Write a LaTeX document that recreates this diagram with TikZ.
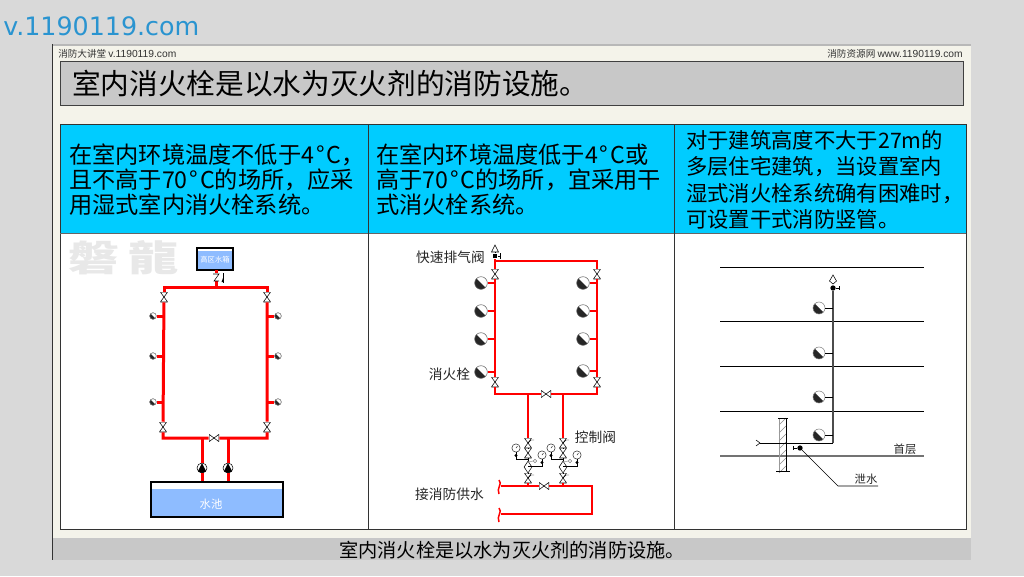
\documentclass[tikz,border=0pt]{standalone}
\usepackage{fontspec}
\setmainfont{Noto Sans CJK SC}
\newfontfamily\latinfont{Liberation Sans}
\newfontfamily\urlfont{DejaVu Sans}
\usepackage{xcolor}
\usetikzlibrary{shapes.geometric}
\definecolor{pagegray}{HTML}{D9D9D9}
\definecolor{panelcream}{HTML}{F4F3EA}
\definecolor{titlegray}{HTML}{C8C8C8}
\definecolor{headcyan}{HTML}{00CCFF}
\definecolor{waterblue}{HTML}{8EBCFF}
\definecolor{urlblue}{HTML}{2A94D0}
\newcommand{\degc}{\hspace{.08em}°\hspace{.08em}C}
\tikzset{
  pipe/.style={draw=red,line width=3pt*0.75},
  thinpipe/.style={draw=red,line width=2.6pt*0.75},
  hydrant/.style={circle,draw=black!60,fill=white,inner sep=0pt,minimum size=#1,
    path picture={\fill[black!85] (path picture bounding box.north west) -- (path picture bounding box.south east) -- (path picture bounding box.south west) -- cycle;}},
  hydrant/.default=9.5pt,
  vvalve/.style={inner sep=0pt,minimum width=5.5pt,minimum height=7.5pt,fill=white,
    path picture={\draw[line width=.4pt] (path picture bounding box.north west) -- (path picture bounding box.south east) -- (path picture bounding box.south west) -- (path picture bounding box.north east) -- cycle;}},
  hvalve/.style={inner sep=0pt,minimum width=7.5pt,minimum height=5.5pt,fill=white,
    path picture={\draw[line width=.4pt] (path picture bounding box.north west) -- (path picture bounding box.south east) -- (path picture bounding box.north east) -- (path picture bounding box.south west) -- cycle;}},
  pump/.style={circle,draw=black,line width=.4pt,fill=white,inner sep=0pt,minimum size=7.5pt,
    path picture={\fill[black] (path picture bounding box.south west) -- (path picture bounding box.south east) -- (path picture bounding box.north) -- cycle;}},
  gauge/.style={circle,draw=black!80,fill=white,line width=.4pt,inner sep=0pt,minimum size=6.2pt},
  blackdot/.style={circle,fill=black,inner sep=0pt,minimum size=4pt},
  headtext/.style={anchor=north west,align=left,inner sep=0pt,font=\fontsize{17.4pt}{18.6pt}\selectfont},
  labeltext/.style={inner sep=0pt,text=black!85,font=\fontsize{10.3pt}{12pt}\selectfont},
  smalltext/.style={inner sep=0pt,text=black!85,font=\fontsize{8.5pt}{10pt}\selectfont},
  toptext/.style={inner sep=0pt,text=black!80,font=\fontsize{7.2pt}{9pt}\selectfont},
}
\begin{document}
\begin{tikzpicture}[x=0.75pt,y=-0.75pt]
  \useasboundingbox (0,0) rectangle (1024,576);
  \fill[pagegray] (0,0) rectangle (1024,576);

  % Slide panel
  \fill[panelcream] (52,44) rectangle (971,538);
  \fill[pagegray!85!black] (52,44) rectangle (971,46);
  \fill[titlegray] (52,538) rectangle (971,560);
  \draw[black!80] (52,44) -- (52,560);
  \node[anchor=west,inner sep=0pt,text=urlblue,font=\urlfont\fontsize{19pt}{22pt}\selectfont] (siteurl) at (3,26.5) {v.1190119.com};
  \node[toptext,anchor=west] (topleft) at (58,54) {消防大讲堂 {\latinfont\fontsize{7.7pt}{9pt}\selectfont v.1190119.com}};
  \node[toptext,anchor=east] (topright) at (963,54) {消防资源网 {\latinfont\fontsize{7.7pt}{9pt}\selectfont www.1190119.com}};

  % Title bar
  \draw[black!75,fill=titlegray] (60,61) rectangle (963,105);
  \node[anchor=west,inner sep=0pt,font=\fontsize{21.5pt}{24pt}\selectfont] (title) at (72,84) {室内消火栓是以水为灭火剂的消防设施。};

  % Table
  \fill[headcyan] (60,124) rectangle (966,233);
  \fill[white] (60,233) rectangle (966,529);
  \draw[black!80] (60,124) rectangle (966,529);
  \draw[black!60] (60,233) -- (966,233);
  \draw[black!80] (368,124) -- (368,529);
  \draw[black!80] (674,124) -- (674,529);
  \node[headtext] (headone) at (69,144) {在室内环境温度不低于4\degc，\\且不高于70\degc 的场所，应采\\用湿式室内消火栓系统。};
  \node[headtext] (headtwo) at (376,144) {在室内环境温度低于4\degc 或\\高于70\degc 的场所，宜采用干\\式消火栓系统。};
  \node[headtext,font=\fontsize{16pt}{19.9pt}\selectfont] (headthree) at (686,130) {对于建筑高度不大于27m的\\多层住宅建筑，当设置室内\\湿式消火栓系统确有困难时，\\可设置干式消防竖管。};

  % Caption
  \node[inner sep=0pt,font=\fontsize{14.4pt}{16pt}\selectfont] (caption) at (512,550) {室内消火栓是以水为灭火剂的消防设施。};

  % Wet system
  \node[inner sep=0pt,xscale=1.4,text=black!9,font=\bfseries\fontsize{27pt}{30pt}\selectfont] (mark) at (124,258) {磐\hspace{5pt}龍};
  \fill[waterblue] (197,251) rectangle (233,270);
  \node[draw=black,line width=.9pt,minimum width=27pt,minimum height=16.5pt,inner sep=0pt] (roof) at (215,259) {};
  \node[inner sep=0pt,text=white,font=\fontsize{5.5pt}{6pt}\selectfont] (rooflabel) at (215,260) {高区水箱};
  \fill[waterblue] (151,489) rectangle (283,517);
  \node[draw=black,line width=.9pt,minimum width=99pt,minimum height=26.25pt,inner sep=0pt] (pool) at (217,499.5) {};
  \node[inner sep=0pt,text=white,font=\fontsize{8.5pt}{10pt}\selectfont] (poollabel) at (211,504) {水池};

  \coordinate (wtop) at (216,287);
  \coordinate (wtl) at (164,287);
  \coordinate (wtr) at (267,287);
  \coordinate (wbl) at (163,438);
  \coordinate (wbr) at (267,438);
  \node[vvalve] (wv1) at (164,297) {};
  \node[vvalve] (wv2) at (267,297) {};
  \node[vvalve] (wv3) at (163,427) {};
  \node[vvalve] (wv4) at (267,427) {};
  \node[hvalve] (wv5) at (214,438) {};
  \node[pump] (wp1) at (202,468) {};
  \node[pump] (wp2) at (228,468) {};
  \coordinate (wr1) at (202,438);
  \coordinate (wr2) at (228,438);

  \draw[pipe] (wv1) -- (wtl) -- (wtr) -- (wv2);
  \draw[pipe] (wv1) -- (wv3) -- (wbl) -- (wv5) -- (wbr) -- (wv4) -- (wv2);
  \draw[pipe] (wp1) -- (wr1);
  \draw[pipe] (wp2) -- (wr2);
  \draw[pipe] (wp1) -- (wp1 |- pool.north);
  \draw[pipe] (wp2) -- (wp2 |- pool.north);
  \draw[pipe] (wtop) -- (216,281);
  \draw[pipe] (216,273) -- (216,270);
  \draw[line width=.4pt] (213,274) -- (219,274) -- (214,281) -- (219,281);
  \draw[line width=.4pt] (223,273) -- (223,283);
  \fill (223,278) -- (221.5,282) -- (223,282) -- cycle;

  \foreach \n/\y in {1/316,2/356,3/402} {
    \node[hydrant=5pt] (wl\n) at (153,\y) {};
    \node[hydrant=5pt] (wh\n) at (278,\y) {};
    \draw[pipe] (wl\n) -- (wl\n -| wv1);
    \draw[pipe] (wh\n) -- (wh\n -| wv2);
  }

  % Dry system
  \node[vvalve] (dv1) at (495,274) {};
  \node[vvalve] (dv2) at (597,274) {};
  \node[vvalve] (dv3) at (495,382) {};
  \node[vvalve] (dv4) at (597,382) {};
  \node[hvalve] (dv5) at (546,394) {};
  \node[blackdot,rectangle,minimum size=3.5pt] (vent) at (495,256) {};
  \coordinate (dtl) at (495,261);
  \coordinate (dtr) at (597,261);
  \coordinate (dbl) at (495,394);
  \coordinate (dbr) at (597,394);
  \draw[thinpipe] (dv1) -- (dtl) -- (dtr) -- (dv2);
  \draw[thinpipe] (dtl) -- (vent);
  \draw[thinpipe] (dv1) -- (dv3) -- (dbl) -- (dv5) -- (dbr) -- (dv4) -- (dv2);
  \draw[line width=.4pt] (491.5,252) -- (495,245) -- (498.5,252) -- cycle;
  \draw[line width=.4pt] (vent) -- (495,252);
  \draw[line width=.4pt] (vent) -- (500,256) (500,253) -- (500,259);

  \foreach \n/\y/\z in {1/283/283,2/311/311,3/339/339,4/372/371} {
    \node[hydrant] (dl\n) at (481,\y) {};
    \node[hydrant] (dh\n) at (583,\z) {};
    \draw[thinpipe] (dl\n) -- (dl\n -| dv1);
    \draw[thinpipe] (dh\n) -- (dh\n -| dv2);
  }

  \node[labeltext] (fastvent) at (450.5,257) {快速排气阀};
  \node[labeltext] (hydlabel) at (449.5,374) {消火栓};
  \node[labeltext] (ctrllabel) at (595.5,437) {控制阀};
  \node[labeltext] (supply) at (449.5,494) {接消防供水};

  % Control valve sets
  \node[hvalve] (dv6) at (544,486) {};
  \coordinate (sb) at (592,486);
  \coordinate (sc) at (592,514);
  \coordinate (sa) at (501,486);
  \coordinate (sd) at (501,514);
  \draw[thinpipe] (sa) -- (dv6) -- (sb) -- (sc) -- (sd);
  \foreach \n/\x in {a/528,b/563} {
    \coordinate (riser\n) at (\x,394);
    \node[vvalve] (c\n1) at (\x,443) {};
    \node[vvalve] (c\n2) at (\x,453) {};
    \node[draw,diamond,aspect=.7,fill=white,line width=.4pt,inner sep=0pt,minimum width=6pt,minimum height=9pt] (c\n3) at (\x,467) {};
    \node[vvalve] (c\n4) at (\x,478) {};
    \draw[thinpipe] (riser\n) -- (c\n1);
    \draw[thinpipe] (c\n4) -- (\x,486);
    \draw[line width=.4pt] (c\n1) -- (c\n2) -- (c\n3) -- (c\n4);
    \draw[line width=.3pt] (\x,443) -- ++(3,-3) -- ++(3,0) (\x,478) -- ++(3,-3) -- ++(3,0);
    \draw[black!50,line width=.3pt] (\x,462) -- (\x+5,461);
    \node[gauge,draw=black!50,minimum size=2.5pt] (t\n) at (\x+7,461) {};
    \node[gauge] (g\n1) at (\x-12,448) {};
    \node[gauge] (g\n2) at (\x+14,455) {};
    \draw[line width=.3pt] (g\n1.center) -- ++(1.5,-2);
    \draw[line width=.3pt] (g\n2.center) -- ++(1.5,-2);
    \draw[line width=.7pt] (g\n1) -- (\x-12,459) -- (\x,459);
    \draw[line width=.7pt] (g\n2) -- (\x+14,466) -- (\x,466);
    \fill (\x-12,455.5) circle (1.7);
    \fill (\x+14,462.5) circle (1.7);
  }
  \draw[red,line width=1.5pt*0.75] (499,480) .. controls (503,484) and (496,488) .. (499,494);
  \draw[red,line width=1.5pt*0.75] (499,508) .. controls (503,512) and (496,516) .. (499,522);

  % Dry standpipe
  \foreach \n/\y in {1/267,2/321,3/366,4/411} {
    \coordinate (fa\n) at (720,\y);
    \coordinate (fb\n) at (924,\y);
    \draw[line width=.7pt] (fa\n) -- (fb\n);
  }
  \coordinate (ga) at (720,456);
  \coordinate (gb) at (924,456);
  \draw[black!55,line width=1.5pt] (ga) -- (gb);

  \foreach \y in {425,433,...,473} {
    \draw[black!45,line width=.35pt] (779,\y) -- (786,\y-7);
  }
  \draw[black!40,line width=.4pt] (779,418) -- (779,471);
  \draw[black,line width=.7pt] (786,418) -- (786,471);
  \draw[line width=.4pt] (776,471) -- (790,471) (778,418) -- (788,418);

  \node[blackdot] (topdot) at (833,288) {};
  \coordinate (elbow) at (833,443);
  \coordinate (inlet) at (760,443);
  \draw[black!70,line width=1.1pt] (topdot) -- (elbow);
  \draw[line width=.7pt] (elbow) -- (inlet);
  \draw[line width=.4pt] (inlet) -- ++(-4,-3) (inlet) -- ++(-4,3);
  \draw[line width=.4pt] (829.5,281) -- (833,275) -- (836.5,281) -- (833,284) -- cycle;
  \draw[line width=.4pt] (topdot) -- (839,288) (839,286) -- (839,290);
  \foreach \n/\y in {1/308,2/353,3/397,4/435} {
    \node[hydrant,draw=black!50,minimum size=9pt] (sh\n) at (819,\y) {};
    \draw[line width=.7pt] (sh\n) -- (sh\n -| topdot);
  }
  \node[blackdot] (drain) at (800,448) {};
  \coordinate (lead) at (838,486);
  \coordinate (leadend) at (878,486);
  \draw[line width=.4pt] (drain) -- (793,448) (793,446) -- (793,450);
  \draw[line width=.5pt] (drain) -- (lead) -- (leadend);
  \node[smalltext] (drainlabel) at (866,479.5) {泄水};
  \node[smalltext] (firstfloor) at (905,449) {首层};
\end{tikzpicture}
\end{document}
